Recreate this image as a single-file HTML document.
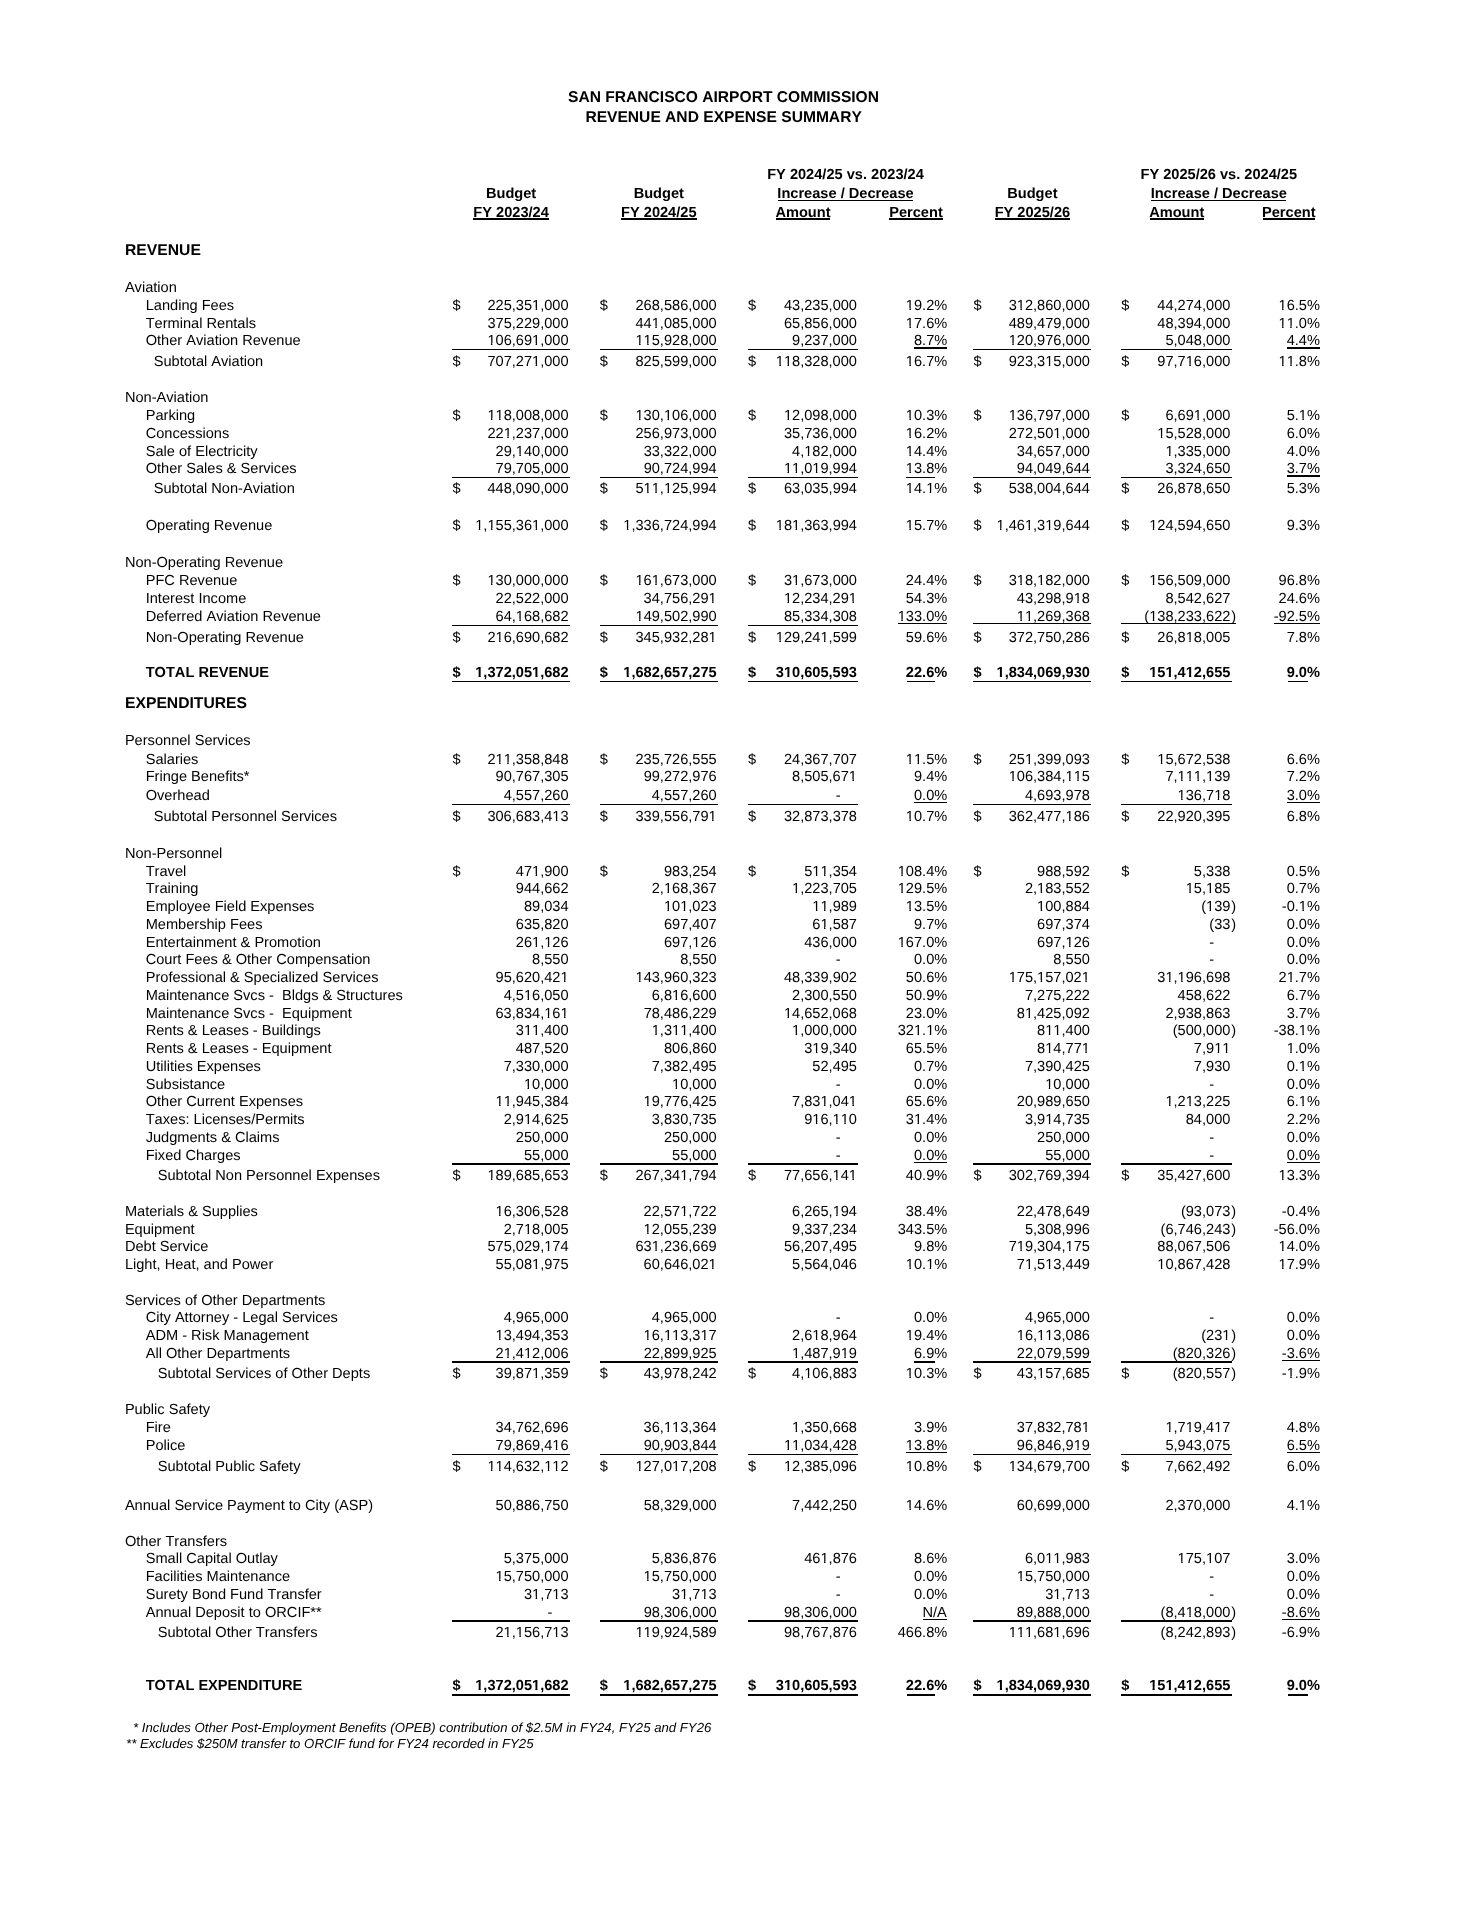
<!DOCTYPE html>
<html><head><meta charset="utf-8"><title>San Francisco Airport Commission - Revenue and Expense Summary</title>
<style>
html,body{margin:0;padding:0;background:#fff;}
body{filter:grayscale(1);text-rendering:geometricPrecision;font-kerning:none;font-feature-settings:'kern' 0;width:1484px;height:1920px;position:relative;overflow:hidden;font-family:"Liberation Sans",sans-serif;color:#000;}
.t{position:absolute;white-space:pre;font-size:14.6px;line-height:20px;}
.c{width:600px;text-align:center;}
.b{font-weight:bold;}
.bt{font-weight:bold;font-size:15.6px;}
.sec{font-size:15.7px;}
.i{font-style:italic;font-size:13.2px;}
.l{position:absolute;background:#000;}
i{font-style:normal;display:inline-block;clip-path:polygon(-2px -3px,11px -3px,11px 12.31px,5.06px 12.31px,5.06px 22px,3.57px 22px,3.57px 12.31px,-2px 12.31px);}
.b i{clip-path:polygon(-2px -3px,11px -3px,11px 11.91px,5.51px 11.91px,5.51px 22px,3.31px 22px,3.31px 11.91px,-2px 11.91px);}
</style></head><body>
<div class="t c bt" style="left:423.50px;top:88.30px">SAN FRANCISCO AIRPORT COMMISSION</div>
<div class="t c bt" style="left:423.60px;top:107.70px">REVENUE AND EXPENSE SUMMARY</div>
<div class="t c b" style="left:545.50px;top:164.70px">FY 2024/25 vs. 2023/24</div>
<div class="t c b" style="left:918.80px;top:164.70px">FY 2025/26 vs. 2024/25</div>
<div class="t c b" style="left:211.10px;top:183.80px">Budget</div>
<div class="t c b" style="left:358.80px;top:183.80px">Budget</div>
<div class="t c b" style="left:732.40px;top:183.80px">Budget</div>
<div class="t c b" style="left:545.50px;top:183.80px">Increase / Decrease</div>
<div class="t c b" style="left:918.80px;top:183.80px">Increase / Decrease</div>
<div class="l" style="left:777.90px;top:199.70px;width:135.30px;height:1.00px"></div>
<div class="l" style="left:1151.30px;top:199.70px;width:135.10px;height:1.00px"></div>
<div class="t c b" style="left:211.10px;top:202.60px">FY 2023/24</div>
<div class="t c b" style="left:358.80px;top:202.60px">FY 2024/25</div>
<div class="t c b" style="left:732.40px;top:202.60px">FY 2025/26</div>
<div class="t c b" style="left:503.00px;top:202.60px">Amount</div>
<div class="l" style="left:776.00px;top:217.95px;width:54.00px;height:1.70px"></div>
<div class="t c b" style="left:616.00px;top:202.60px">Percent</div>
<div class="l" style="left:889.20px;top:217.95px;width:53.60px;height:1.70px"></div>
<div class="t c b" style="left:876.70px;top:202.60px">Amount</div>
<div class="l" style="left:1149.50px;top:217.95px;width:54.50px;height:1.70px"></div>
<div class="t c b" style="left:988.80px;top:202.60px">Percent</div>
<div class="l" style="left:1262.50px;top:217.95px;width:52.50px;height:1.70px"></div>
<div class="l" style="left:473.40px;top:217.90px;width:75.50px;height:1.80px"></div>
<div class="l" style="left:621.10px;top:217.90px;width:75.60px;height:1.80px"></div>
<div class="l" style="left:995.00px;top:217.90px;width:74.80px;height:1.80px"></div>
<div class="t b sec" style="left:125.00px;top:241.00px">REVENUE</div>
<div class="t b sec" style="left:125.00px;top:693.50px">EXPENDITURES</div>
<div class="t" style="left:124.90px;top:277.80px">Aviation</div>
<div class="t" style="left:145.70px;top:295.70px">Landing Fees</div>
<div class="t" style="left:452.54px;top:295.70px">$</div>
<div class="t" style="right:915.43px;top:295.70px">225,35<i>1</i>,000</div>
<div class="t" style="left:599.84px;top:295.70px">$</div>
<div class="t" style="right:767.33px;top:295.70px">268,586,000</div>
<div class="t" style="left:748.04px;top:295.70px">$</div>
<div class="t" style="right:627.03px;top:295.70px">43,235,000</div>
<div class="t" style="left:973.44px;top:295.70px">$</div>
<div class="t" style="right:394.13px;top:295.70px">3<i>1</i>2,860,000</div>
<div class="t" style="left:1121.34px;top:295.70px">$</div>
<div class="t" style="right:253.63px;top:295.70px">44,274,000</div>
<div class="t" style="right:536.78px;top:295.70px"><i>1</i>9.2%</div>
<div class="t" style="right:164.08px;top:295.70px"><i>1</i>6.5%</div>
<div class="t" style="left:145.70px;top:313.50px">Terminal Rentals</div>
<div class="t" style="right:915.43px;top:313.50px">375,229,000</div>
<div class="t" style="right:767.33px;top:313.50px">44<i>1</i>,085,000</div>
<div class="t" style="right:627.03px;top:313.50px">65,856,000</div>
<div class="t" style="right:394.13px;top:313.50px">489,479,000</div>
<div class="t" style="right:253.63px;top:313.50px">48,394,000</div>
<div class="t" style="right:536.78px;top:313.50px"><i>1</i>7.6%</div>
<div class="t" style="right:164.08px;top:313.50px"><i>1</i><i>1</i>.0%</div>
<div class="t" style="left:145.70px;top:330.70px">Other Aviation Revenue</div>
<div class="t" style="right:915.43px;top:330.70px"><i>1</i>06,69<i>1</i>,000</div>
<div class="t" style="right:767.33px;top:330.70px"><i>1</i><i>1</i>5,928,000</div>
<div class="t" style="right:627.03px;top:330.70px">9,237,000</div>
<div class="t" style="right:394.13px;top:330.70px"><i>1</i>20,976,000</div>
<div class="t" style="right:253.63px;top:330.70px">5,048,000</div>
<div class="t" style="right:536.78px;top:330.70px">8.7%</div>
<div class="t" style="right:164.08px;top:330.70px">4.4%</div>
<div class="t" style="left:153.70px;top:351.90px">Subtotal Aviation</div>
<div class="t" style="left:452.54px;top:351.90px">$</div>
<div class="t" style="right:915.43px;top:351.90px">707,27<i>1</i>,000</div>
<div class="t" style="left:599.84px;top:351.90px">$</div>
<div class="t" style="right:767.33px;top:351.90px">825,599,000</div>
<div class="t" style="left:748.04px;top:351.90px">$</div>
<div class="t" style="right:627.03px;top:351.90px"><i>1</i><i>1</i>8,328,000</div>
<div class="t" style="left:973.44px;top:351.90px">$</div>
<div class="t" style="right:394.13px;top:351.90px">923,3<i>1</i>5,000</div>
<div class="t" style="left:1121.34px;top:351.90px">$</div>
<div class="t" style="right:253.63px;top:351.90px">97,7<i>1</i>6,000</div>
<div class="t" style="right:536.78px;top:351.90px"><i>1</i>6.7%</div>
<div class="t" style="right:164.08px;top:351.90px"><i>1</i><i>1</i>.8%</div>
<div class="t" style="left:124.90px;top:387.80px">Non-Aviation</div>
<div class="t" style="left:145.70px;top:405.80px">Parking</div>
<div class="t" style="left:452.54px;top:405.80px">$</div>
<div class="t" style="right:915.43px;top:405.80px"><i>1</i><i>1</i>8,008,000</div>
<div class="t" style="left:599.84px;top:405.80px">$</div>
<div class="t" style="right:767.33px;top:405.80px"><i>1</i>30,<i>1</i>06,000</div>
<div class="t" style="left:748.04px;top:405.80px">$</div>
<div class="t" style="right:627.03px;top:405.80px"><i>1</i>2,098,000</div>
<div class="t" style="left:973.44px;top:405.80px">$</div>
<div class="t" style="right:394.13px;top:405.80px"><i>1</i>36,797,000</div>
<div class="t" style="left:1121.34px;top:405.80px">$</div>
<div class="t" style="right:253.63px;top:405.80px">6,69<i>1</i>,000</div>
<div class="t" style="right:536.78px;top:405.80px"><i>1</i>0.3%</div>
<div class="t" style="right:164.08px;top:405.80px">5.<i>1</i>%</div>
<div class="t" style="left:145.70px;top:423.70px">Concessions</div>
<div class="t" style="right:915.43px;top:423.70px">22<i>1</i>,237,000</div>
<div class="t" style="right:767.33px;top:423.70px">256,973,000</div>
<div class="t" style="right:627.03px;top:423.70px">35,736,000</div>
<div class="t" style="right:394.13px;top:423.70px">272,50<i>1</i>,000</div>
<div class="t" style="right:253.63px;top:423.70px"><i>1</i>5,528,000</div>
<div class="t" style="right:536.78px;top:423.70px"><i>1</i>6.2%</div>
<div class="t" style="right:164.08px;top:423.70px">6.0%</div>
<div class="t" style="left:145.70px;top:441.50px">Sale of Electricity</div>
<div class="t" style="right:915.43px;top:441.50px">29,<i>1</i>40,000</div>
<div class="t" style="right:767.33px;top:441.50px">33,322,000</div>
<div class="t" style="right:627.03px;top:441.50px">4,<i>1</i>82,000</div>
<div class="t" style="right:394.13px;top:441.50px">34,657,000</div>
<div class="t" style="right:253.63px;top:441.50px"><i>1</i>,335,000</div>
<div class="t" style="right:536.78px;top:441.50px"><i>1</i>4.4%</div>
<div class="t" style="right:164.08px;top:441.50px">4.0%</div>
<div class="t" style="left:145.70px;top:458.80px">Other Sales &amp; Services</div>
<div class="t" style="right:915.43px;top:458.80px">79,705,000</div>
<div class="t" style="right:767.33px;top:458.80px">90,724,994</div>
<div class="t" style="right:627.03px;top:458.80px"><i>1</i><i>1</i>,0<i>1</i>9,994</div>
<div class="t" style="right:394.13px;top:458.80px">94,049,644</div>
<div class="t" style="right:253.63px;top:458.80px">3,324,650</div>
<div class="t" style="right:536.78px;top:458.80px"><i>1</i>3.8%</div>
<div class="t" style="right:164.08px;top:458.80px">3.7%</div>
<div class="t" style="left:153.70px;top:479.30px">Subtotal Non-Aviation</div>
<div class="t" style="left:452.54px;top:479.30px">$</div>
<div class="t" style="right:915.43px;top:479.30px">448,090,000</div>
<div class="t" style="left:599.84px;top:479.30px">$</div>
<div class="t" style="right:767.33px;top:479.30px">5<i>1</i><i>1</i>,<i>1</i>25,994</div>
<div class="t" style="left:748.04px;top:479.30px">$</div>
<div class="t" style="right:627.03px;top:479.30px">63,035,994</div>
<div class="t" style="left:973.44px;top:479.30px">$</div>
<div class="t" style="right:394.13px;top:479.30px">538,004,644</div>
<div class="t" style="left:1121.34px;top:479.30px">$</div>
<div class="t" style="right:253.63px;top:479.30px">26,878,650</div>
<div class="t" style="right:536.78px;top:479.30px"><i>1</i>4.<i>1</i>%</div>
<div class="t" style="right:164.08px;top:479.30px">5.3%</div>
<div class="t" style="left:145.70px;top:515.60px">Operating Revenue</div>
<div class="t" style="left:452.54px;top:515.60px">$</div>
<div class="t" style="right:915.43px;top:515.60px"><i>1</i>,<i>1</i>55,36<i>1</i>,000</div>
<div class="t" style="left:599.84px;top:515.60px">$</div>
<div class="t" style="right:767.33px;top:515.60px"><i>1</i>,336,724,994</div>
<div class="t" style="left:748.04px;top:515.60px">$</div>
<div class="t" style="right:627.03px;top:515.60px"><i>1</i>8<i>1</i>,363,994</div>
<div class="t" style="left:973.44px;top:515.60px">$</div>
<div class="t" style="right:394.13px;top:515.60px"><i>1</i>,46<i>1</i>,3<i>1</i>9,644</div>
<div class="t" style="left:1121.34px;top:515.60px">$</div>
<div class="t" style="right:253.63px;top:515.60px"><i>1</i>24,594,650</div>
<div class="t" style="right:536.78px;top:515.60px"><i>1</i>5.7%</div>
<div class="t" style="right:164.08px;top:515.60px">9.3%</div>
<div class="t" style="left:124.90px;top:553.00px">Non-Operating Revenue</div>
<div class="t" style="left:145.70px;top:570.70px">PFC Revenue</div>
<div class="t" style="left:452.54px;top:570.70px">$</div>
<div class="t" style="right:915.43px;top:570.70px"><i>1</i>30,000,000</div>
<div class="t" style="left:599.84px;top:570.70px">$</div>
<div class="t" style="right:767.33px;top:570.70px"><i>1</i>6<i>1</i>,673,000</div>
<div class="t" style="left:748.04px;top:570.70px">$</div>
<div class="t" style="right:627.03px;top:570.70px">3<i>1</i>,673,000</div>
<div class="t" style="left:973.44px;top:570.70px">$</div>
<div class="t" style="right:394.13px;top:570.70px">3<i>1</i>8,<i>1</i>82,000</div>
<div class="t" style="left:1121.34px;top:570.70px">$</div>
<div class="t" style="right:253.63px;top:570.70px"><i>1</i>56,509,000</div>
<div class="t" style="right:536.78px;top:570.70px">24.4%</div>
<div class="t" style="right:164.08px;top:570.70px">96.8%</div>
<div class="t" style="left:145.70px;top:588.70px">Interest Income</div>
<div class="t" style="right:915.43px;top:588.70px">22,522,000</div>
<div class="t" style="right:767.33px;top:588.70px">34,756,29<i>1</i></div>
<div class="t" style="right:627.03px;top:588.70px"><i>1</i>2,234,29<i>1</i></div>
<div class="t" style="right:394.13px;top:588.70px">43,298,9<i>1</i>8</div>
<div class="t" style="right:253.63px;top:588.70px">8,542,627</div>
<div class="t" style="right:536.78px;top:588.70px">54.3%</div>
<div class="t" style="right:164.08px;top:588.70px">24.6%</div>
<div class="t" style="left:145.70px;top:606.80px">Deferred Aviation Revenue</div>
<div class="t" style="right:915.43px;top:606.80px">64,<i>1</i>68,682</div>
<div class="t" style="right:767.33px;top:606.80px"><i>1</i>49,502,990</div>
<div class="t" style="right:627.03px;top:606.80px">85,334,308</div>
<div class="t" style="right:394.13px;top:606.80px"><i>1</i><i>1</i>,269,368</div>
<div class="t" style="right:247.87px;top:606.80px">(<i>1</i>38,233,622<span style="margin-left:0.9px">)</span></div>
<div class="t" style="right:536.78px;top:606.80px"><i>1</i>33.0%</div>
<div class="t" style="right:164.08px;top:606.80px">-92.5%</div>
<div class="t" style="left:145.70px;top:627.70px">Non-Operating Revenue</div>
<div class="t" style="left:452.54px;top:627.70px">$</div>
<div class="t" style="right:915.43px;top:627.70px">2<i>1</i>6,690,682</div>
<div class="t" style="left:599.84px;top:627.70px">$</div>
<div class="t" style="right:767.33px;top:627.70px">345,932,28<i>1</i></div>
<div class="t" style="left:748.04px;top:627.70px">$</div>
<div class="t" style="right:627.03px;top:627.70px"><i>1</i>29,24<i>1</i>,599</div>
<div class="t" style="left:973.44px;top:627.70px">$</div>
<div class="t" style="right:394.13px;top:627.70px">372,750,286</div>
<div class="t" style="left:1121.34px;top:627.70px">$</div>
<div class="t" style="right:253.63px;top:627.70px">26,8<i>1</i>8,005</div>
<div class="t" style="right:536.78px;top:627.70px">59.6%</div>
<div class="t" style="right:164.08px;top:627.70px">7.8%</div>
<div class="t b" style="left:145.70px;top:662.80px">TOTAL REVENUE</div>
<div class="t b" style="left:452.54px;top:662.80px">$</div>
<div class="t b" style="right:915.43px;top:662.80px"><i>1</i>,372,05<i>1</i>,682</div>
<div class="t b" style="left:599.84px;top:662.80px">$</div>
<div class="t b" style="right:767.33px;top:662.80px"><i>1</i>,682,657,275</div>
<div class="t b" style="left:748.04px;top:662.80px">$</div>
<div class="t b" style="right:627.03px;top:662.80px">3<i>1</i>0,605,593</div>
<div class="t b" style="left:973.44px;top:662.80px">$</div>
<div class="t b" style="right:394.13px;top:662.80px"><i>1</i>,834,069,930</div>
<div class="t b" style="left:1121.34px;top:662.80px">$</div>
<div class="t b" style="right:253.63px;top:662.80px"><i>1</i>5<i>1</i>,4<i>1</i>2,655</div>
<div class="t b" style="right:536.78px;top:662.80px">22.6%</div>
<div class="t b" style="right:164.08px;top:662.80px">9.0%</div>
<div class="t" style="left:124.90px;top:730.70px">Personnel Services</div>
<div class="t" style="left:145.70px;top:749.50px">Salaries</div>
<div class="t" style="left:452.54px;top:749.50px">$</div>
<div class="t" style="right:915.43px;top:749.50px">2<i>1</i><i>1</i>,358,848</div>
<div class="t" style="left:599.84px;top:749.50px">$</div>
<div class="t" style="right:767.33px;top:749.50px">235,726,555</div>
<div class="t" style="left:748.04px;top:749.50px">$</div>
<div class="t" style="right:627.03px;top:749.50px">24,367,707</div>
<div class="t" style="left:973.44px;top:749.50px">$</div>
<div class="t" style="right:394.13px;top:749.50px">25<i>1</i>,399,093</div>
<div class="t" style="left:1121.34px;top:749.50px">$</div>
<div class="t" style="right:253.63px;top:749.50px"><i>1</i>5,672,538</div>
<div class="t" style="right:536.78px;top:749.50px"><i>1</i><i>1</i>.5%</div>
<div class="t" style="right:164.08px;top:749.50px">6.6%</div>
<div class="t" style="left:145.70px;top:766.80px">Fringe Benefits*</div>
<div class="t" style="right:915.43px;top:766.80px">90,767,305</div>
<div class="t" style="right:767.33px;top:766.80px">99,272,976</div>
<div class="t" style="right:627.03px;top:766.80px">8,505,67<i>1</i></div>
<div class="t" style="right:394.13px;top:766.80px"><i>1</i>06,384,<i>1</i><i>1</i>5</div>
<div class="t" style="right:253.63px;top:766.80px">7,<i>1</i><i>1</i><i>1</i>,<i>1</i>39</div>
<div class="t" style="right:536.78px;top:766.80px">9.4%</div>
<div class="t" style="right:164.08px;top:766.80px">7.2%</div>
<div class="t" style="left:145.70px;top:785.70px">Overhead</div>
<div class="t" style="right:915.43px;top:785.70px">4,557,260</div>
<div class="t" style="right:767.33px;top:785.70px">4,557,260</div>
<div class="t" style="right:643.27px;top:785.70px">-</div>
<div class="t" style="right:394.13px;top:785.70px">4,693,978</div>
<div class="t" style="right:253.63px;top:785.70px"><i>1</i>36,7<i>1</i>8</div>
<div class="t" style="right:536.78px;top:785.70px">0.0%</div>
<div class="t" style="right:164.08px;top:785.70px">3.0%</div>
<div class="t" style="left:153.70px;top:806.70px">Subtotal Personnel Services</div>
<div class="t" style="left:452.54px;top:806.70px">$</div>
<div class="t" style="right:915.43px;top:806.70px">306,683,4<i>1</i>3</div>
<div class="t" style="left:599.84px;top:806.70px">$</div>
<div class="t" style="right:767.33px;top:806.70px">339,556,79<i>1</i></div>
<div class="t" style="left:748.04px;top:806.70px">$</div>
<div class="t" style="right:627.03px;top:806.70px">32,873,378</div>
<div class="t" style="left:973.44px;top:806.70px">$</div>
<div class="t" style="right:394.13px;top:806.70px">362,477,<i>1</i>86</div>
<div class="t" style="left:1121.34px;top:806.70px">$</div>
<div class="t" style="right:253.63px;top:806.70px">22,920,395</div>
<div class="t" style="right:536.78px;top:806.70px"><i>1</i>0.7%</div>
<div class="t" style="right:164.08px;top:806.70px">6.8%</div>
<div class="t" style="left:124.90px;top:843.50px">Non-Personnel</div>
<div class="t" style="left:145.70px;top:861.70px">Travel</div>
<div class="t" style="left:452.54px;top:861.70px">$</div>
<div class="t" style="right:915.43px;top:861.70px">47<i>1</i>,900</div>
<div class="t" style="left:599.84px;top:861.70px">$</div>
<div class="t" style="right:767.33px;top:861.70px">983,254</div>
<div class="t" style="left:748.04px;top:861.70px">$</div>
<div class="t" style="right:627.03px;top:861.70px">5<i>1</i><i>1</i>,354</div>
<div class="t" style="left:973.44px;top:861.70px">$</div>
<div class="t" style="right:394.13px;top:861.70px">988,592</div>
<div class="t" style="left:1121.34px;top:861.70px">$</div>
<div class="t" style="right:253.63px;top:861.70px">5,338</div>
<div class="t" style="right:536.78px;top:861.70px"><i>1</i>08.4%</div>
<div class="t" style="right:164.08px;top:861.70px">0.5%</div>
<div class="t" style="left:145.70px;top:879.10px">Training</div>
<div class="t" style="right:915.43px;top:879.10px">944,662</div>
<div class="t" style="right:767.33px;top:879.10px">2,<i>1</i>68,367</div>
<div class="t" style="right:627.03px;top:879.10px"><i>1</i>,223,705</div>
<div class="t" style="right:394.13px;top:879.10px">2,<i>1</i>83,552</div>
<div class="t" style="right:253.63px;top:879.10px"><i>1</i>5,<i>1</i>85</div>
<div class="t" style="right:536.78px;top:879.10px"><i>1</i>29.5%</div>
<div class="t" style="right:164.08px;top:879.10px">0.7%</div>
<div class="t" style="left:145.70px;top:896.90px">Employee Field Expenses</div>
<div class="t" style="right:915.43px;top:896.90px">89,034</div>
<div class="t" style="right:767.33px;top:896.90px"><i>1</i>0<i>1</i>,023</div>
<div class="t" style="right:627.03px;top:896.90px"><i>1</i><i>1</i>,989</div>
<div class="t" style="right:394.13px;top:896.90px"><i>1</i>00,884</div>
<div class="t" style="right:247.87px;top:896.90px">(<i>1</i>39<span style="margin-left:0.9px">)</span></div>
<div class="t" style="right:536.78px;top:896.90px"><i>1</i>3.5%</div>
<div class="t" style="right:164.08px;top:896.90px">-0.<i>1</i>%</div>
<div class="t" style="left:145.70px;top:914.60px">Membership Fees</div>
<div class="t" style="right:915.43px;top:914.60px">635,820</div>
<div class="t" style="right:767.33px;top:914.60px">697,407</div>
<div class="t" style="right:627.03px;top:914.60px">6<i>1</i>,587</div>
<div class="t" style="right:394.13px;top:914.60px">697,374</div>
<div class="t" style="right:247.87px;top:914.60px">(33<span style="margin-left:0.9px">)</span></div>
<div class="t" style="right:536.78px;top:914.60px">9.7%</div>
<div class="t" style="right:164.08px;top:914.60px">0.0%</div>
<div class="t" style="left:145.70px;top:932.60px">Entertainment &amp; Promotion</div>
<div class="t" style="right:915.43px;top:932.60px">26<i>1</i>,<i>1</i>26</div>
<div class="t" style="right:767.33px;top:932.60px">697,<i>1</i>26</div>
<div class="t" style="right:627.03px;top:932.60px">436,000</div>
<div class="t" style="right:394.13px;top:932.60px">697,<i>1</i>26</div>
<div class="t" style="right:269.87px;top:932.60px">-</div>
<div class="t" style="right:536.78px;top:932.60px"><i>1</i>67.0%</div>
<div class="t" style="right:164.08px;top:932.60px">0.0%</div>
<div class="t" style="left:145.70px;top:949.90px">Court Fees &amp; Other Compensation</div>
<div class="t" style="right:915.43px;top:949.90px">8,550</div>
<div class="t" style="right:767.33px;top:949.90px">8,550</div>
<div class="t" style="right:643.27px;top:949.90px">-</div>
<div class="t" style="right:394.13px;top:949.90px">8,550</div>
<div class="t" style="right:269.87px;top:949.90px">-</div>
<div class="t" style="right:536.78px;top:949.90px">0.0%</div>
<div class="t" style="right:164.08px;top:949.90px">0.0%</div>
<div class="t" style="left:145.70px;top:967.60px">Professional &amp; Specialized Services</div>
<div class="t" style="right:915.43px;top:967.60px">95,620,42<i>1</i></div>
<div class="t" style="right:767.33px;top:967.60px"><i>1</i>43,960,323</div>
<div class="t" style="right:627.03px;top:967.60px">48,339,902</div>
<div class="t" style="right:394.13px;top:967.60px"><i>1</i>75,<i>1</i>57,02<i>1</i></div>
<div class="t" style="right:253.63px;top:967.60px">3<i>1</i>,<i>1</i>96,698</div>
<div class="t" style="right:536.78px;top:967.60px">50.6%</div>
<div class="t" style="right:164.08px;top:967.60px">2<i>1</i>.7%</div>
<div class="t" style="left:145.70px;top:985.60px">Maintenance Svcs -  Bldgs &amp; Structures</div>
<div class="t" style="right:915.43px;top:985.60px">4,5<i>1</i>6,050</div>
<div class="t" style="right:767.33px;top:985.60px">6,8<i>1</i>6,600</div>
<div class="t" style="right:627.03px;top:985.60px">2,300,550</div>
<div class="t" style="right:394.13px;top:985.60px">7,275,222</div>
<div class="t" style="right:253.63px;top:985.60px">458,622</div>
<div class="t" style="right:536.78px;top:985.60px">50.9%</div>
<div class="t" style="right:164.08px;top:985.60px">6.7%</div>
<div class="t" style="left:145.70px;top:1003.70px">Maintenance Svcs -  Equipment</div>
<div class="t" style="right:915.43px;top:1003.70px">63,834,<i>1</i>6<i>1</i></div>
<div class="t" style="right:767.33px;top:1003.70px">78,486,229</div>
<div class="t" style="right:627.03px;top:1003.70px"><i>1</i>4,652,068</div>
<div class="t" style="right:394.13px;top:1003.70px">8<i>1</i>,425,092</div>
<div class="t" style="right:253.63px;top:1003.70px">2,938,863</div>
<div class="t" style="right:536.78px;top:1003.70px">23.0%</div>
<div class="t" style="right:164.08px;top:1003.70px">3.7%</div>
<div class="t" style="left:145.70px;top:1021.10px">Rents &amp; Leases - Buildings</div>
<div class="t" style="right:915.43px;top:1021.10px">3<i>1</i><i>1</i>,400</div>
<div class="t" style="right:767.33px;top:1021.10px"><i>1</i>,3<i>1</i><i>1</i>,400</div>
<div class="t" style="right:627.03px;top:1021.10px"><i>1</i>,000,000</div>
<div class="t" style="right:394.13px;top:1021.10px">8<i>1</i><i>1</i>,400</div>
<div class="t" style="right:247.87px;top:1021.10px">(500,000<span style="margin-left:0.9px">)</span></div>
<div class="t" style="right:536.78px;top:1021.10px">32<i>1</i>.<i>1</i>%</div>
<div class="t" style="right:164.08px;top:1021.10px">-38.<i>1</i>%</div>
<div class="t" style="left:145.70px;top:1039.00px">Rents &amp; Leases - Equipment</div>
<div class="t" style="right:915.43px;top:1039.00px">487,520</div>
<div class="t" style="right:767.33px;top:1039.00px">806,860</div>
<div class="t" style="right:627.03px;top:1039.00px">3<i>1</i>9,340</div>
<div class="t" style="right:394.13px;top:1039.00px">8<i>1</i>4,77<i>1</i></div>
<div class="t" style="right:253.63px;top:1039.00px">7,9<i>1</i><i>1</i></div>
<div class="t" style="right:536.78px;top:1039.00px">65.5%</div>
<div class="t" style="right:164.08px;top:1039.00px"><i>1</i>.0%</div>
<div class="t" style="left:145.70px;top:1056.90px">Utilities Expenses</div>
<div class="t" style="right:915.43px;top:1056.90px">7,330,000</div>
<div class="t" style="right:767.33px;top:1056.90px">7,382,495</div>
<div class="t" style="right:627.03px;top:1056.90px">52,495</div>
<div class="t" style="right:394.13px;top:1056.90px">7,390,425</div>
<div class="t" style="right:253.63px;top:1056.90px">7,930</div>
<div class="t" style="right:536.78px;top:1056.90px">0.7%</div>
<div class="t" style="right:164.08px;top:1056.90px">0.<i>1</i>%</div>
<div class="t" style="left:145.70px;top:1074.50px">Subsistance</div>
<div class="t" style="right:915.43px;top:1074.50px"><i>1</i>0,000</div>
<div class="t" style="right:767.33px;top:1074.50px"><i>1</i>0,000</div>
<div class="t" style="right:643.27px;top:1074.50px">-</div>
<div class="t" style="right:394.13px;top:1074.50px"><i>1</i>0,000</div>
<div class="t" style="right:269.87px;top:1074.50px">-</div>
<div class="t" style="right:536.78px;top:1074.50px">0.0%</div>
<div class="t" style="right:164.08px;top:1074.50px">0.0%</div>
<div class="t" style="left:145.70px;top:1091.90px">Other Current Expenses</div>
<div class="t" style="right:915.43px;top:1091.90px"><i>1</i><i>1</i>,945,384</div>
<div class="t" style="right:767.33px;top:1091.90px"><i>1</i>9,776,425</div>
<div class="t" style="right:627.03px;top:1091.90px">7,83<i>1</i>,04<i>1</i></div>
<div class="t" style="right:394.13px;top:1091.90px">20,989,650</div>
<div class="t" style="right:253.63px;top:1091.90px"><i>1</i>,2<i>1</i>3,225</div>
<div class="t" style="right:536.78px;top:1091.90px">65.6%</div>
<div class="t" style="right:164.08px;top:1091.90px">6.<i>1</i>%</div>
<div class="t" style="left:145.70px;top:1109.60px">Taxes: Licenses/Permits</div>
<div class="t" style="right:915.43px;top:1109.60px">2,9<i>1</i>4,625</div>
<div class="t" style="right:767.33px;top:1109.60px">3,830,735</div>
<div class="t" style="right:627.03px;top:1109.60px">9<i>1</i>6,<i>1</i><i>1</i>0</div>
<div class="t" style="right:394.13px;top:1109.60px">3,9<i>1</i>4,735</div>
<div class="t" style="right:253.63px;top:1109.60px">84,000</div>
<div class="t" style="right:536.78px;top:1109.60px">3<i>1</i>.4%</div>
<div class="t" style="right:164.08px;top:1109.60px">2.2%</div>
<div class="t" style="left:145.70px;top:1127.60px">Judgments &amp; Claims</div>
<div class="t" style="right:915.43px;top:1127.60px">250,000</div>
<div class="t" style="right:767.33px;top:1127.60px">250,000</div>
<div class="t" style="right:643.27px;top:1127.60px">-</div>
<div class="t" style="right:394.13px;top:1127.60px">250,000</div>
<div class="t" style="right:269.87px;top:1127.60px">-</div>
<div class="t" style="right:536.78px;top:1127.60px">0.0%</div>
<div class="t" style="right:164.08px;top:1127.60px">0.0%</div>
<div class="t" style="left:145.70px;top:1145.50px">Fixed Charges</div>
<div class="t" style="right:915.43px;top:1145.50px">55,000</div>
<div class="t" style="right:767.33px;top:1145.50px">55,000</div>
<div class="t" style="right:643.27px;top:1145.50px">-</div>
<div class="t" style="right:394.13px;top:1145.50px">55,000</div>
<div class="t" style="right:269.87px;top:1145.50px">-</div>
<div class="t" style="right:536.78px;top:1145.50px">0.0%</div>
<div class="t" style="right:164.08px;top:1145.50px">0.0%</div>
<div class="t" style="left:157.70px;top:1165.60px">Subtotal Non Personnel Expenses</div>
<div class="t" style="left:452.54px;top:1165.60px">$</div>
<div class="t" style="right:915.43px;top:1165.60px"><i>1</i>89,685,653</div>
<div class="t" style="left:599.84px;top:1165.60px">$</div>
<div class="t" style="right:767.33px;top:1165.60px">267,34<i>1</i>,794</div>
<div class="t" style="left:748.04px;top:1165.60px">$</div>
<div class="t" style="right:627.03px;top:1165.60px">77,656,<i>1</i>4<i>1</i></div>
<div class="t" style="left:973.44px;top:1165.60px">$</div>
<div class="t" style="right:394.13px;top:1165.60px">302,769,394</div>
<div class="t" style="left:1121.34px;top:1165.60px">$</div>
<div class="t" style="right:253.63px;top:1165.60px">35,427,600</div>
<div class="t" style="right:536.78px;top:1165.60px">40.9%</div>
<div class="t" style="right:164.08px;top:1165.60px"><i>1</i>3.3%</div>
<div class="t" style="left:124.90px;top:1201.70px">Materials &amp; Supplies</div>
<div class="t" style="right:915.43px;top:1201.70px"><i>1</i>6,306,528</div>
<div class="t" style="right:767.33px;top:1201.70px">22,57<i>1</i>,722</div>
<div class="t" style="right:627.03px;top:1201.70px">6,265,<i>1</i>94</div>
<div class="t" style="right:394.13px;top:1201.70px">22,478,649</div>
<div class="t" style="right:247.87px;top:1201.70px">(93,073<span style="margin-left:0.9px">)</span></div>
<div class="t" style="right:536.78px;top:1201.70px">38.4%</div>
<div class="t" style="right:164.08px;top:1201.70px">-0.4%</div>
<div class="t" style="left:124.90px;top:1219.70px">Equipment</div>
<div class="t" style="right:915.43px;top:1219.70px">2,7<i>1</i>8,005</div>
<div class="t" style="right:767.33px;top:1219.70px"><i>1</i>2,055,239</div>
<div class="t" style="right:627.03px;top:1219.70px">9,337,234</div>
<div class="t" style="right:394.13px;top:1219.70px">5,308,996</div>
<div class="t" style="right:247.87px;top:1219.70px">(6,746,243<span style="margin-left:0.9px">)</span></div>
<div class="t" style="right:536.78px;top:1219.70px">343.5%</div>
<div class="t" style="right:164.08px;top:1219.70px">-56.0%</div>
<div class="t" style="left:124.90px;top:1236.60px">Debt Service</div>
<div class="t" style="right:915.43px;top:1236.60px">575,029,<i>1</i>74</div>
<div class="t" style="right:767.33px;top:1236.60px">63<i>1</i>,236,669</div>
<div class="t" style="right:627.03px;top:1236.60px">56,207,495</div>
<div class="t" style="right:394.13px;top:1236.60px">7<i>1</i>9,304,<i>1</i>75</div>
<div class="t" style="right:253.63px;top:1236.60px">88,067,506</div>
<div class="t" style="right:536.78px;top:1236.60px">9.8%</div>
<div class="t" style="right:164.08px;top:1236.60px"><i>1</i>4.0%</div>
<div class="t" style="left:124.90px;top:1254.60px">Light, Heat, and Power</div>
<div class="t" style="right:915.43px;top:1254.60px">55,08<i>1</i>,975</div>
<div class="t" style="right:767.33px;top:1254.60px">60,646,02<i>1</i></div>
<div class="t" style="right:627.03px;top:1254.60px">5,564,046</div>
<div class="t" style="right:394.13px;top:1254.60px">7<i>1</i>,5<i>1</i>3,449</div>
<div class="t" style="right:253.63px;top:1254.60px"><i>1</i>0,867,428</div>
<div class="t" style="right:536.78px;top:1254.60px"><i>1</i>0.<i>1</i>%</div>
<div class="t" style="right:164.08px;top:1254.60px"><i>1</i>7.9%</div>
<div class="t" style="left:124.90px;top:1290.70px">Services of Other Departments</div>
<div class="t" style="left:145.70px;top:1307.70px">City Attorney - Legal Services</div>
<div class="t" style="right:915.43px;top:1307.70px">4,965,000</div>
<div class="t" style="right:767.33px;top:1307.70px">4,965,000</div>
<div class="t" style="right:643.27px;top:1307.70px">-</div>
<div class="t" style="right:394.13px;top:1307.70px">4,965,000</div>
<div class="t" style="right:269.87px;top:1307.70px">-</div>
<div class="t" style="right:536.78px;top:1307.70px">0.0%</div>
<div class="t" style="right:164.08px;top:1307.70px">0.0%</div>
<div class="t" style="left:145.70px;top:1325.60px">ADM - Risk Management</div>
<div class="t" style="right:915.43px;top:1325.60px"><i>1</i>3,494,353</div>
<div class="t" style="right:767.33px;top:1325.60px"><i>1</i>6,<i>1</i><i>1</i>3,3<i>1</i>7</div>
<div class="t" style="right:627.03px;top:1325.60px">2,6<i>1</i>8,964</div>
<div class="t" style="right:394.13px;top:1325.60px"><i>1</i>6,<i>1</i><i>1</i>3,086</div>
<div class="t" style="right:247.87px;top:1325.60px">(23<i>1</i><span style="margin-left:0.9px">)</span></div>
<div class="t" style="right:536.78px;top:1325.60px"><i>1</i>9.4%</div>
<div class="t" style="right:164.08px;top:1325.60px">0.0%</div>
<div class="t" style="left:145.70px;top:1343.50px">All Other Departments</div>
<div class="t" style="right:915.43px;top:1343.50px">2<i>1</i>,4<i>1</i>2,006</div>
<div class="t" style="right:767.33px;top:1343.50px">22,899,925</div>
<div class="t" style="right:627.03px;top:1343.50px"><i>1</i>,487,9<i>1</i>9</div>
<div class="t" style="right:394.13px;top:1343.50px">22,079,599</div>
<div class="t" style="right:247.87px;top:1343.50px">(820,326<span style="margin-left:0.9px">)</span></div>
<div class="t" style="right:536.78px;top:1343.50px">6.9%</div>
<div class="t" style="right:164.08px;top:1343.50px">-3.6%</div>
<div class="t" style="left:157.70px;top:1363.60px">Subtotal Services of Other Depts</div>
<div class="t" style="left:452.54px;top:1363.60px">$</div>
<div class="t" style="right:915.43px;top:1363.60px">39,87<i>1</i>,359</div>
<div class="t" style="left:599.84px;top:1363.60px">$</div>
<div class="t" style="right:767.33px;top:1363.60px">43,978,242</div>
<div class="t" style="left:748.04px;top:1363.60px">$</div>
<div class="t" style="right:627.03px;top:1363.60px">4,<i>1</i>06,883</div>
<div class="t" style="left:973.44px;top:1363.60px">$</div>
<div class="t" style="right:394.13px;top:1363.60px">43,<i>1</i>57,685</div>
<div class="t" style="left:1121.34px;top:1363.60px">$</div>
<div class="t" style="right:247.87px;top:1363.60px">(820,557<span style="margin-left:0.9px">)</span></div>
<div class="t" style="right:536.78px;top:1363.60px"><i>1</i>0.3%</div>
<div class="t" style="right:164.08px;top:1363.60px">-<i>1</i>.9%</div>
<div class="t" style="left:124.90px;top:1400.00px">Public Safety</div>
<div class="t" style="left:145.70px;top:1417.60px">Fire</div>
<div class="t" style="right:915.43px;top:1417.60px">34,762,696</div>
<div class="t" style="right:767.33px;top:1417.60px">36,<i>1</i><i>1</i>3,364</div>
<div class="t" style="right:627.03px;top:1417.60px"><i>1</i>,350,668</div>
<div class="t" style="right:394.13px;top:1417.60px">37,832,78<i>1</i></div>
<div class="t" style="right:253.63px;top:1417.60px"><i>1</i>,7<i>1</i>9,4<i>1</i>7</div>
<div class="t" style="right:536.78px;top:1417.60px">3.9%</div>
<div class="t" style="right:164.08px;top:1417.60px">4.8%</div>
<div class="t" style="left:145.70px;top:1435.70px">Police</div>
<div class="t" style="right:915.43px;top:1435.70px">79,869,4<i>1</i>6</div>
<div class="t" style="right:767.33px;top:1435.70px">90,903,844</div>
<div class="t" style="right:627.03px;top:1435.70px"><i>1</i><i>1</i>,034,428</div>
<div class="t" style="right:394.13px;top:1435.70px">96,846,9<i>1</i>9</div>
<div class="t" style="right:253.63px;top:1435.70px">5,943,075</div>
<div class="t" style="right:536.78px;top:1435.70px"><i>1</i>3.8%</div>
<div class="t" style="right:164.08px;top:1435.70px">6.5%</div>
<div class="t" style="left:157.70px;top:1456.80px">Subtotal Public Safety</div>
<div class="t" style="left:452.54px;top:1456.80px">$</div>
<div class="t" style="right:915.43px;top:1456.80px"><i>1</i><i>1</i>4,632,<i>1</i><i>1</i>2</div>
<div class="t" style="left:599.84px;top:1456.80px">$</div>
<div class="t" style="right:767.33px;top:1456.80px"><i>1</i>27,0<i>1</i>7,208</div>
<div class="t" style="left:748.04px;top:1456.80px">$</div>
<div class="t" style="right:627.03px;top:1456.80px"><i>1</i>2,385,096</div>
<div class="t" style="left:973.44px;top:1456.80px">$</div>
<div class="t" style="right:394.13px;top:1456.80px"><i>1</i>34,679,700</div>
<div class="t" style="left:1121.34px;top:1456.80px">$</div>
<div class="t" style="right:253.63px;top:1456.80px">7,662,492</div>
<div class="t" style="right:536.78px;top:1456.80px"><i>1</i>0.8%</div>
<div class="t" style="right:164.08px;top:1456.80px">6.0%</div>
<div class="t" style="left:124.90px;top:1495.80px">Annual Service Payment to City (ASP)</div>
<div class="t" style="right:915.43px;top:1495.80px">50,886,750</div>
<div class="t" style="right:767.33px;top:1495.80px">58,329,000</div>
<div class="t" style="right:627.03px;top:1495.80px">7,442,250</div>
<div class="t" style="right:394.13px;top:1495.80px">60,699,000</div>
<div class="t" style="right:253.63px;top:1495.80px">2,370,000</div>
<div class="t" style="right:536.78px;top:1495.80px"><i>1</i>4.6%</div>
<div class="t" style="right:164.08px;top:1495.80px">4.<i>1</i>%</div>
<div class="t" style="left:124.90px;top:1531.80px">Other Transfers</div>
<div class="t" style="left:145.70px;top:1548.70px">Small Capital Outlay</div>
<div class="t" style="right:915.43px;top:1548.70px">5,375,000</div>
<div class="t" style="right:767.33px;top:1548.70px">5,836,876</div>
<div class="t" style="right:627.03px;top:1548.70px">46<i>1</i>,876</div>
<div class="t" style="right:394.13px;top:1548.70px">6,0<i>1</i><i>1</i>,983</div>
<div class="t" style="right:253.63px;top:1548.70px"><i>1</i>75,<i>1</i>07</div>
<div class="t" style="right:536.78px;top:1548.70px">8.6%</div>
<div class="t" style="right:164.08px;top:1548.70px">3.0%</div>
<div class="t" style="left:145.70px;top:1566.50px">Facilities Maintenance</div>
<div class="t" style="right:915.43px;top:1566.50px"><i>1</i>5,750,000</div>
<div class="t" style="right:767.33px;top:1566.50px"><i>1</i>5,750,000</div>
<div class="t" style="right:643.27px;top:1566.50px">-</div>
<div class="t" style="right:394.13px;top:1566.50px"><i>1</i>5,750,000</div>
<div class="t" style="right:269.87px;top:1566.50px">-</div>
<div class="t" style="right:536.78px;top:1566.50px">0.0%</div>
<div class="t" style="right:164.08px;top:1566.50px">0.0%</div>
<div class="t" style="left:145.70px;top:1584.50px">Surety Bond Fund Transfer</div>
<div class="t" style="right:915.43px;top:1584.50px">3<i>1</i>,7<i>1</i>3</div>
<div class="t" style="right:767.33px;top:1584.50px">3<i>1</i>,7<i>1</i>3</div>
<div class="t" style="right:643.27px;top:1584.50px">-</div>
<div class="t" style="right:394.13px;top:1584.50px">3<i>1</i>,7<i>1</i>3</div>
<div class="t" style="right:269.87px;top:1584.50px">-</div>
<div class="t" style="right:536.78px;top:1584.50px">0.0%</div>
<div class="t" style="right:164.08px;top:1584.50px">0.0%</div>
<div class="t" style="left:145.70px;top:1602.60px">Annual Deposit to ORCIF**</div>
<div class="t" style="right:931.67px;top:1602.60px">-</div>
<div class="t" style="right:767.33px;top:1602.60px">98,306,000</div>
<div class="t" style="right:627.03px;top:1602.60px">98,306,000</div>
<div class="t" style="right:394.13px;top:1602.60px">89,888,000</div>
<div class="t" style="right:247.87px;top:1602.60px">(8,4<i>1</i>8,000<span style="margin-left:0.9px">)</span></div>
<div class="t" style="right:537.27px;top:1602.60px">N/A</div>
<div class="t" style="right:164.08px;top:1602.60px">-8.6%</div>
<div class="t" style="left:157.70px;top:1622.60px">Subtotal Other Transfers</div>
<div class="t" style="right:915.43px;top:1622.60px">2<i>1</i>,<i>1</i>56,7<i>1</i>3</div>
<div class="t" style="right:767.33px;top:1622.60px"><i>1</i><i>1</i>9,924,589</div>
<div class="t" style="right:627.03px;top:1622.60px">98,767,876</div>
<div class="t" style="right:394.13px;top:1622.60px"><i>1</i><i>1</i><i>1</i>,68<i>1</i>,696</div>
<div class="t" style="right:247.87px;top:1622.60px">(8,242,893<span style="margin-left:0.9px">)</span></div>
<div class="t" style="right:536.78px;top:1622.60px">466.8%</div>
<div class="t" style="right:164.08px;top:1622.60px">-6.9%</div>
<div class="t b" style="left:145.70px;top:1675.70px">TOTAL EXPENDITURE</div>
<div class="t b" style="left:452.54px;top:1675.70px">$</div>
<div class="t b" style="right:915.43px;top:1675.70px"><i>1</i>,372,05<i>1</i>,682</div>
<div class="t b" style="left:599.84px;top:1675.70px">$</div>
<div class="t b" style="right:767.33px;top:1675.70px"><i>1</i>,682,657,275</div>
<div class="t b" style="left:748.04px;top:1675.70px">$</div>
<div class="t b" style="right:627.03px;top:1675.70px">3<i>1</i>0,605,593</div>
<div class="t b" style="left:973.44px;top:1675.70px">$</div>
<div class="t b" style="right:394.13px;top:1675.70px"><i>1</i>,834,069,930</div>
<div class="t b" style="left:1121.34px;top:1675.70px">$</div>
<div class="t b" style="right:253.63px;top:1675.70px"><i>1</i>5<i>1</i>,4<i>1</i>2,655</div>
<div class="t b" style="right:536.78px;top:1675.70px">22.6%</div>
<div class="t b" style="right:164.08px;top:1675.70px">9.0%</div>
<div class="l" style="left:452.10px;top:348.90px;width:117.80px;height:1.00px"></div>
<div class="l" style="left:600.00px;top:348.90px;width:117.90px;height:1.00px"></div>
<div class="l" style="left:748.20px;top:348.90px;width:109.70px;height:1.00px"></div>
<div class="l" style="left:973.00px;top:348.90px;width:117.90px;height:1.00px"></div>
<div class="l" style="left:1121.30px;top:348.90px;width:110.60px;height:1.00px"></div>
<div class="l" style="left:452.10px;top:476.80px;width:117.80px;height:1.00px"></div>
<div class="l" style="left:600.00px;top:476.80px;width:117.90px;height:1.00px"></div>
<div class="l" style="left:748.20px;top:476.80px;width:109.70px;height:1.00px"></div>
<div class="l" style="left:973.00px;top:476.80px;width:117.90px;height:1.00px"></div>
<div class="l" style="left:1121.30px;top:476.80px;width:110.60px;height:1.00px"></div>
<div class="l" style="left:452.10px;top:624.80px;width:117.80px;height:1.00px"></div>
<div class="l" style="left:600.00px;top:624.80px;width:117.90px;height:1.00px"></div>
<div class="l" style="left:748.20px;top:624.80px;width:109.70px;height:1.00px"></div>
<div class="l" style="left:973.00px;top:622.70px;width:117.90px;height:1.00px"></div>
<div class="l" style="left:1121.30px;top:622.70px;width:114.40px;height:1.00px"></div>
<div class="l" style="left:452.10px;top:680.60px;width:117.80px;height:1.20px"></div>
<div class="l" style="left:600.00px;top:680.60px;width:117.90px;height:1.20px"></div>
<div class="l" style="left:748.20px;top:680.60px;width:109.70px;height:1.20px"></div>
<div class="l" style="left:973.00px;top:680.60px;width:117.90px;height:1.20px"></div>
<div class="l" style="left:1121.30px;top:680.60px;width:110.60px;height:1.20px"></div>
<div class="l" style="left:452.10px;top:804.00px;width:117.80px;height:1.00px"></div>
<div class="l" style="left:600.00px;top:804.00px;width:117.90px;height:1.00px"></div>
<div class="l" style="left:748.20px;top:804.00px;width:109.70px;height:1.00px"></div>
<div class="l" style="left:973.00px;top:804.00px;width:117.90px;height:1.00px"></div>
<div class="l" style="left:1121.30px;top:804.00px;width:110.60px;height:1.00px"></div>
<div class="l" style="left:452.10px;top:1163.00px;width:117.80px;height:2.00px"></div>
<div class="l" style="left:600.00px;top:1163.00px;width:117.90px;height:2.00px"></div>
<div class="l" style="left:748.20px;top:1163.00px;width:109.70px;height:2.00px"></div>
<div class="l" style="left:973.00px;top:1163.00px;width:117.90px;height:2.00px"></div>
<div class="l" style="left:1121.30px;top:1163.00px;width:110.60px;height:2.00px"></div>
<div class="l" style="left:452.10px;top:1360.90px;width:117.80px;height:2.00px"></div>
<div class="l" style="left:600.00px;top:1360.90px;width:117.90px;height:2.00px"></div>
<div class="l" style="left:748.20px;top:1360.90px;width:109.70px;height:2.00px"></div>
<div class="l" style="left:973.00px;top:1360.90px;width:117.90px;height:2.00px"></div>
<div class="l" style="left:1121.30px;top:1360.90px;width:110.60px;height:2.00px"></div>
<div class="l" style="left:452.10px;top:1454.00px;width:117.80px;height:1.00px"></div>
<div class="l" style="left:600.00px;top:1454.00px;width:117.90px;height:1.00px"></div>
<div class="l" style="left:748.20px;top:1454.00px;width:109.70px;height:1.00px"></div>
<div class="l" style="left:973.00px;top:1454.00px;width:117.90px;height:1.00px"></div>
<div class="l" style="left:1121.30px;top:1454.00px;width:110.60px;height:1.00px"></div>
<div class="l" style="left:452.10px;top:1620.00px;width:117.80px;height:2.00px"></div>
<div class="l" style="left:600.00px;top:1620.00px;width:117.90px;height:2.00px"></div>
<div class="l" style="left:748.20px;top:1620.00px;width:109.70px;height:2.00px"></div>
<div class="l" style="left:973.00px;top:1620.00px;width:117.90px;height:2.00px"></div>
<div class="l" style="left:1121.30px;top:1620.00px;width:110.60px;height:2.00px"></div>
<div class="l" style="left:452.10px;top:1694.00px;width:117.80px;height:2.00px"></div>
<div class="l" style="left:600.00px;top:1694.00px;width:117.90px;height:2.00px"></div>
<div class="l" style="left:748.20px;top:1694.00px;width:109.70px;height:2.00px"></div>
<div class="l" style="left:973.00px;top:1694.00px;width:117.90px;height:2.00px"></div>
<div class="l" style="left:1121.30px;top:1694.00px;width:110.60px;height:2.00px"></div>
<div class="l" style="left:914.00px;top:347.00px;width:33.00px;height:2.00px"></div>
<div class="l" style="left:1287.00px;top:346.70px;width:33.00px;height:2.00px"></div>
<div class="l" style="left:906.00px;top:476.85px;width:29.00px;height:1.10px"></div>
<div class="l" style="left:1287.00px;top:474.90px;width:33.00px;height:2.00px"></div>
<div class="l" style="left:898.00px;top:622.95px;width:49.00px;height:1.10px"></div>
<div class="l" style="left:1274.00px;top:622.95px;width:46.00px;height:1.10px"></div>
<div class="l" style="left:907.00px;top:680.65px;width:28.00px;height:1.10px"></div>
<div class="l" style="left:1288.00px;top:680.85px;width:20.00px;height:1.10px"></div>
<div class="l" style="left:914.00px;top:801.75px;width:33.00px;height:1.30px"></div>
<div class="l" style="left:1287.00px;top:801.75px;width:33.00px;height:1.30px"></div>
<div class="l" style="left:914.00px;top:1161.65px;width:33.00px;height:1.30px"></div>
<div class="l" style="left:1287.00px;top:1161.75px;width:33.00px;height:1.30px"></div>
<div class="l" style="left:914.00px;top:1361.00px;width:21.00px;height:2.00px"></div>
<div class="l" style="left:1282.00px;top:1359.85px;width:38.00px;height:1.30px"></div>
<div class="l" style="left:906.00px;top:1451.70px;width:41.00px;height:1.20px"></div>
<div class="l" style="left:1287.00px;top:1451.75px;width:33.00px;height:1.30px"></div>
<div class="l" style="left:923.00px;top:1618.85px;width:24.00px;height:1.30px"></div>
<div class="l" style="left:1282.00px;top:1618.85px;width:38.00px;height:1.30px"></div>
<div class="l" style="left:907.00px;top:1693.80px;width:28.00px;height:2.00px"></div>
<div class="l" style="left:1288.00px;top:1693.80px;width:20.00px;height:2.00px"></div>
<div class="t i" style="left:133.00px;top:1717.60px">* Includes Other Post-Employment Benefits (OPEB) contribution of $2.5M in FY24, FY25 and FY26</div>
<div class="t i" style="left:126.00px;top:1734.30px">** Excludes $250M transfer to ORCIF fund for FY24 recorded in FY25</div>
</body></html>
